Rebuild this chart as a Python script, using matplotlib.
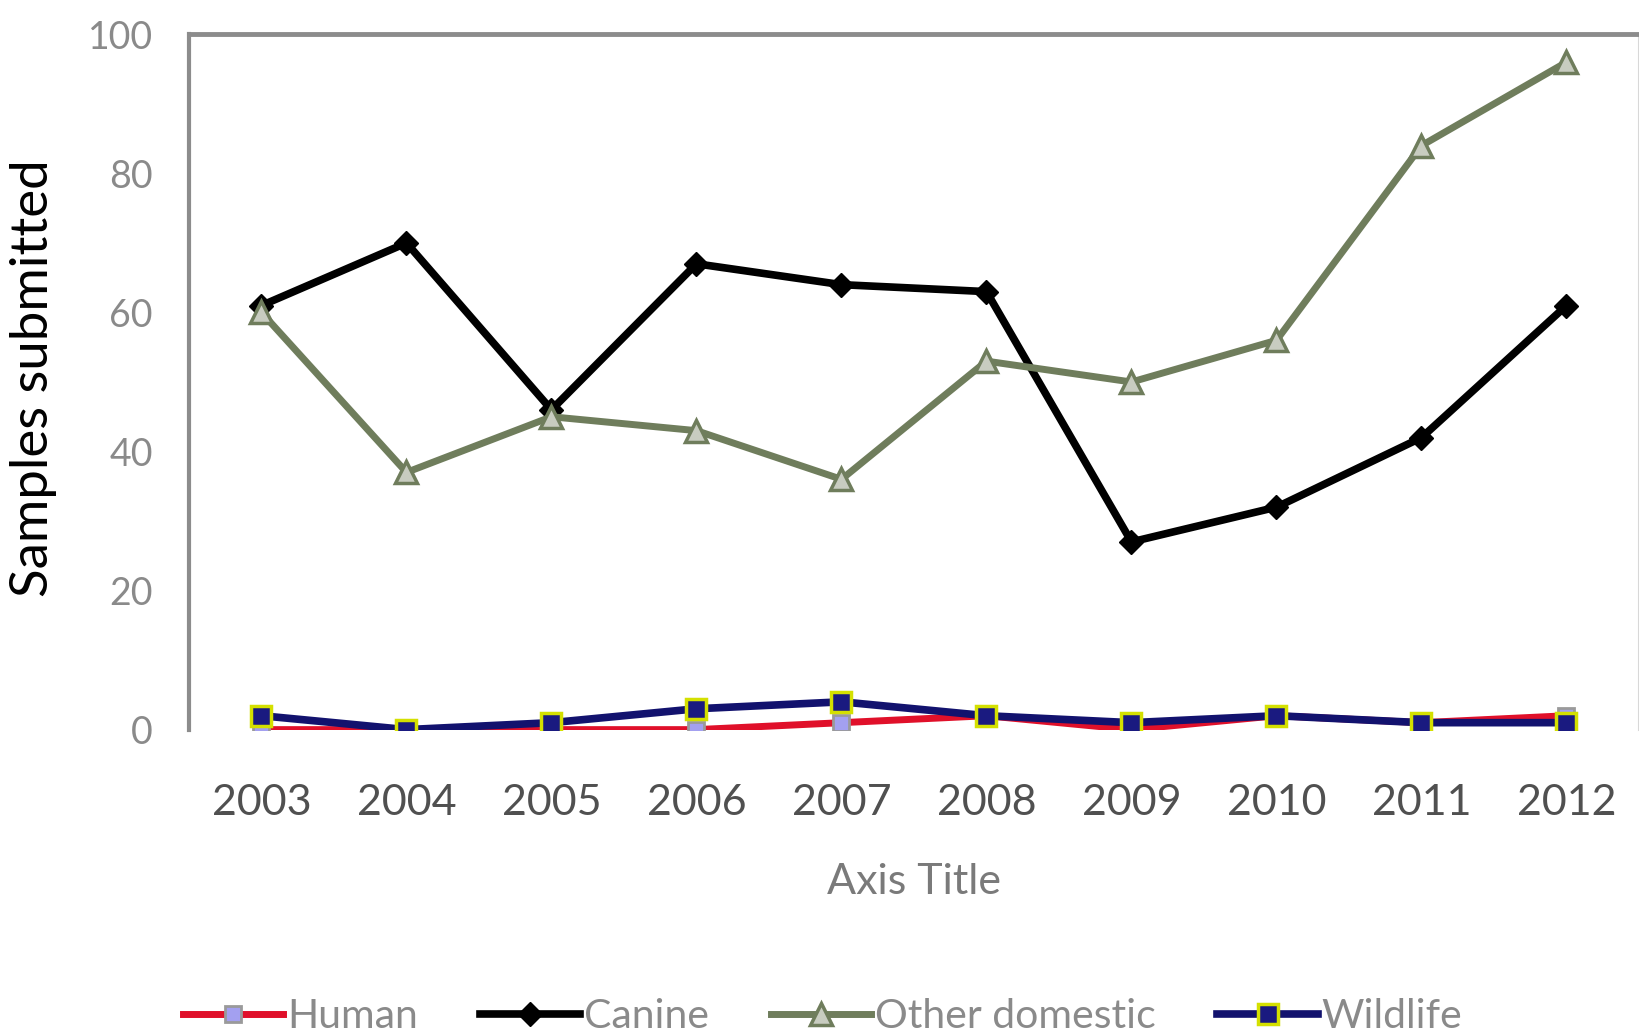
import matplotlib
matplotlib.use('Agg')
import matplotlib.pyplot as plt
import numpy as np

## Data

years = ['2003', '2004', '2005', '2006', '2007', '2008', '2009', '2010', '2011', '2012']
human = [0, 0, 0, 0, 1, 2, 0, 2, 1, 2]
canine = [61, 70, 46, 67, 64, 63, 27, 32, 42, 61]
other_domestic = [60, 37, 45, 43, 36, 53, 50, 56, 84, 96]
wildlife = [2, 0, 1, 3, 4, 2, 1, 2, 1, 1]

plt.rcParams['font.family'] = ['Lato', 'DejaVu Sans']

fig = plt.figure(figsize=(16.39, 10.32), dpi=100)
ax = fig.add_axes([0.1153, 0.293, 0.8847, 0.6737])

x = np.arange(len(years))

## Series

ax.plot(x, human, color='#e0102a', lw=5, marker='s', ms=12,
        mfc='#a3a0f0', mec='#9a9a9a', mew=2, label='Human', zorder=3)
ax.plot(x, canine, color='black', lw=5.5, marker='D', ms=12,
        mfc='black', mec='black', label='Canine', zorder=4)
ax.plot(x, other_domestic, color='#6f7d5c', lw=5, marker='^', ms=16,
        mfc='#c8ccc0', mec='#6f7d5c', mew=2.5, label='Other domestic', zorder=5)
ax.plot(x, wildlife, color='#12126e', lw=5.5, marker='s', ms=14,
        mfc='#1a1a80', mec='#d4e000', mew=2.5, label='Wildlife', zorder=6)

## Axes

ax.set_xlim(-0.5, 9.5)
ax.set_ylim(0, 100)
ax.set_yticks([0, 20, 40, 60, 80, 100])
ax.set_xticks(x)
ax.set_xticklabels(years)
ax.tick_params(axis='y', length=0, pad=26, labelsize=27, labelcolor='#8a8a8a')
ax.tick_params(axis='x', length=0, pad=39, labelsize=31, labelcolor='#505050')

ax.spines['top'].set_color('#8c8c8c')
ax.spines['top'].set_linewidth(3.5)
ax.spines['left'].set_color('#8c8c8c')
ax.spines['left'].set_linewidth(3)
ax.spines['right'].set_color('#d8d8d8')
ax.spines['right'].set_linewidth(1.5)
ax.spines['bottom'].set_visible(False)

ax.set_xlabel('Axis Title', fontsize=31, color='#7a7a7a', labelpad=30)
ax.set_ylabel('Samples submitted', fontsize=38, color='black')
ax.yaxis.set_label_coords(-0.091, 0.505)

## Legend

fig.legend(loc='center', bbox_to_anchor=(0.502, 0.015), ncol=4, frameon=False,
           fontsize=29.5, handlelength=2.45, columnspacing=1.5, handletextpad=0.1,
           labelcolor='#8a8a8a')

fig.savefig('out.png', dpi=100)
